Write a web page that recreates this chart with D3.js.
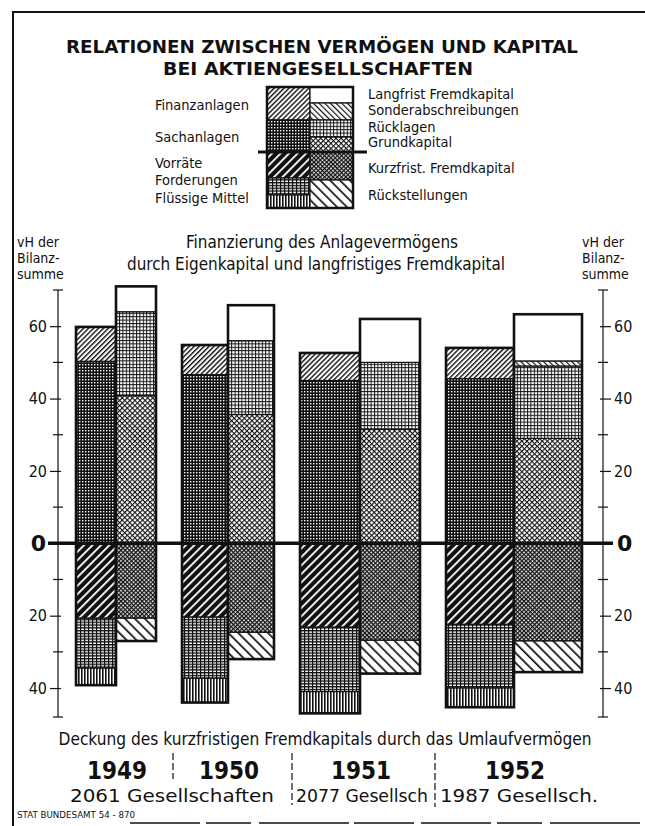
<!DOCTYPE html>
<html>
<head>
<meta charset="utf-8">
<script src="https://cdn.jsdelivr.net/npm/d3@7"></script>
<style>
  body { margin: 0; background: #fff; }
  svg { display: block; }
  text { font-family: 'DejaVu Sans Condensed', 'Liberation Sans Narrow', 'Roboto', sans-serif; fill: #111; }
</style>
</head>
<body>
<svg id="chart"></svg>
<script>
// Werte in vH der Bilanzsumme
const jahre = ['1949', '1950', '1951', '1952'];

// Vermögen (linker Balken)
const finanzanlagen   = [9.5, 8.2, 7.6, 8.5];
const sachanlagen     = [50.3, 46.6, 45.0, 45.5];
const vorraete        = [20.7, 20.4, 23.2, 22.4];
const forderungen     = [13.8, 16.9, 17.8, 17.6];
const fluessigeMittel = [4.7, 6.7, 6.0, 5.3];

// Kapital (rechter Balken)
const grundkapital         = [40.8, 35.6, 31.5, 29.0];
const ruecklagen           = [23.2, 20.4, 18.5, 20.0];
const sonderabschreibungen = [0, 0, 0, 1.4];
const langfristFremd       = [7.0, 9.8, 12.0, 12.9];
const kurzfristFremd       = [20.7, 24.6, 26.8, 27.0];
const rueckstellungen      = [6.3, 7.4, 9.2, 8.6];

const tickWerte  = [60, 40, 20, -20, -40];
const nebenTicks = [50, 30, 10, -10, -30];

const gesellschaften = ['2061 Gesellschaften', '2077 Gesellsch', '1987 Gesellsch.'];

const legendeLinks = ['Finanzanlagen', 'Sachanlagen', 'Vorräte', 'Forderungen', 'Flüssige Mittel'];
const legendeRechts = ['Langfrist Fremdkapital', 'Sonderabschreibungen', 'Rücklagen', 'Grundkapital', 'Kurzfrist. Fremdkapital', 'Rückstellungen'];

// ---- Layout ----
const width = 645, height = 826;
const balkenBreite = [40, 46, 60, 68];   // Breite je Einzelbalken
const xStart = 76, gruppenAbstand = 26;

const svg = d3.select('#chart').attr('width', width).attr('height', height);
const defs = svg.append('defs');

function muster(id, w, h, transform, bg, draw) {
    const p = defs.append('pattern')
        .attr('id', id)
        .attr('patternUnits', 'userSpaceOnUse')
        .attr('width', w).attr('height', h);
    if (transform) p.attr('patternTransform', transform);
    p.append('rect').attr('width', w).attr('height', h).attr('fill', bg);
    draw(p);
}
const schwarz = '#111';

muster('p-finanz', 3.5, 4, 'rotate(45)', '#fff', p => p.append('rect').attr('width', 1.4).attr('height', 4).attr('fill', schwarz));
muster('p-sach', 3, 3, null, schwarz, p => p.append('rect').attr('x', 1).attr('y', 1).attr('width', 1.4).attr('height', 1.4).attr('fill', '#fff'));
muster('p-vorraete', 6, 6, 'rotate(45)', schwarz, p => p.append('rect').attr('width', 1.8).attr('height', 6).attr('fill', '#fff'));
muster('p-forder', 4, 2.8, null, '#fff', p => {
    p.append('rect').attr('width', 4).attr('height', 1.4).attr('fill', schwarz);
    p.append('rect').attr('width', 1.2).attr('height', 2.8).attr('fill', schwarz);
});
muster('p-fluessig', 3, 4, null, '#fff', p => p.append('rect').attr('width', 1.6).attr('height', 4).attr('fill', schwarz));
muster('p-langfrist', 4, 4, null, '#fff', p => {});
muster('p-sonder', 4, 4, 'rotate(-45)', '#fff', p => p.append('rect').attr('width', 1.2).attr('height', 4).attr('fill', schwarz));
muster('p-rueck', 3.4, 3.4, null, '#fff', p => {
    p.append('rect').attr('width', 3.4).attr('height', 1).attr('fill', schwarz);
    p.append('rect').attr('width', 1).attr('height', 3.4).attr('fill', schwarz);
});
muster('p-grund', 3.6, 3.6, 'rotate(45)', '#fff', p => {
    p.append('rect').attr('width', 3.6).attr('height', 1.1).attr('fill', schwarz);
    p.append('rect').attr('width', 1.1).attr('height', 3.6).attr('fill', schwarz);
});
muster('p-kurz', 3, 3, 'rotate(45)', '#fff', p => {
    p.append('rect').attr('width', 3).attr('height', 1.3).attr('fill', schwarz);
    p.append('rect').attr('width', 1.3).attr('height', 3).attr('fill', schwarz);
});
muster('p-rueckst', 7, 7, 'rotate(-45)', '#fff', p => p.append('rect').attr('width', 1.7).attr('height', 7).attr('fill', schwarz));

const musterVon = {
    finanzanlagen: 'p-finanz', sachanlagen: 'p-sach', vorraete: 'p-vorraete',
    forderungen: 'p-forder', fluessigeMittel: 'p-fluessig',
    langfristFremd: 'p-langfrist', sonderabschreibungen: 'p-sonder', ruecklagen: 'p-rueck',
    grundkapital: 'p-grund', kurzfristFremd: 'p-kurz', rueckstellungen: 'p-rueckst'
};

// ---- Rahmen ----
svg.append('line').attr('x1', 12).attr('x2', width).attr('y1', 12).attr('y2', 12)
    .attr('stroke', schwarz).attr('stroke-width', 2);
svg.append('line').attr('x1', 13).attr('x2', 13).attr('y1', 12).attr('y2', height)
    .attr('stroke', schwarz).attr('stroke-width', 2);
svg.append('line').attr('x1', 130).attr('x2', width).attr('y1', 823).attr('y2', 823)
    .attr('stroke', schwarz).attr('stroke-width', 1.5).attr('stroke-dasharray', '70 6 45 8 90 5 60 7');

// ---- Titel ----
function text(x, y, str, size, opts = {}) {
    const t = svg.append('text').attr('x', x).attr('y', y)
        .attr('font-size', size)
        .attr('text-anchor', opts.anchor || 'start')
        .attr('font-weight', opts.bold ? 'bold' : 'normal')
        .text(str);
    if (opts.len) t.attr('textLength', opts.len).attr('lengthAdjust', 'spacingAndGlyphs');
    if (opts.family) t.style('font-family', opts.family);
    return t;
}
const titelFont = "'DejaVu Sans', sans-serif";
text(322, 53, 'RELATIONEN ZWISCHEN VERMÖGEN UND KAPITAL', 18.5, { anchor: 'middle', bold: true, len: 512, family: titelFont });
text(318, 75, 'BEI AKTIENGESELLSCHAFTEN', 18.5, { anchor: 'middle', bold: true, len: 310, family: titelFont });

// ---- Legende ----
const lgL = 267, lgM = 310, lgR = 353;
const grenzenLinks = [87, 120, 152, 178, 195, 208];
const grenzenRechts = [87, 103, 120, 137, 152, 180, 208];
const keysLegLinks = ['finanzanlagen', 'sachanlagen', 'vorraete', 'forderungen', 'fluessigeMittel'];
const keysLegRechts = ['langfristFremd', 'sonderabschreibungen', 'ruecklagen', 'grundkapital', 'kurzfristFremd', 'rueckstellungen'];
const leg = svg.append('g');
keysLegLinks.forEach((k, i) => {
    leg.append('rect').attr('x', lgL).attr('y', grenzenLinks[i])
        .attr('width', lgM - lgL).attr('height', grenzenLinks[i + 1] - grenzenLinks[i])
        .attr('fill', `url(#${musterVon[k]})`).attr('stroke', schwarz).attr('stroke-width', 1.2);
});
keysLegRechts.forEach((k, i) => {
    leg.append('rect').attr('x', lgM).attr('y', grenzenRechts[i])
        .attr('width', lgR - lgM).attr('height', grenzenRechts[i + 1] - grenzenRechts[i])
        .attr('fill', `url(#${musterVon[k]})`).attr('stroke', schwarz).attr('stroke-width', 1.2);
});
leg.append('rect').attr('x', lgL).attr('y', 87).attr('width', lgR - lgL).attr('height', 121)
    .attr('fill', 'none').attr('stroke', schwarz).attr('stroke-width', 2.5);
leg.append('line').attr('x1', 258).attr('x2', 367).attr('y1', 152).attr('y2', 152)
    .attr('stroke', schwarz).attr('stroke-width', 3);

const legYLinks = [110, 142, 168, 185, 203];
const legYRechts = [99, 115, 132, 147, 173, 200];
legendeLinks.forEach((l, i) => text(155, legYLinks[i], l, 14.5));
legendeRechts.forEach((l, i) => text(368, legYRechts[i], l, 14.5));

// ---- Achsentexte ----
['vH der', 'Bilanz-', 'summe'].forEach((l, i) => {
    text(17, 247 + i * 16, l, 14);
    text(582, 247 + i * 16, l, 14);
});
text(322, 248, 'Finanzierung des Anlagevermögens', 18, { anchor: 'middle', len: 272 });
text(316, 270, 'durch Eigenkapital und langfristiges Fremdkapital', 18, { anchor: 'middle', len: 378 });

// ---- Skalen ----
const y = d3.scaleLinear().domain([70, -48]).range([290, 717]);

const xGruppe = [];
let xPos = xStart;
balkenBreite.forEach(b => { xGruppe.push(xPos); xPos += 2 * b + gruppenAbstand; });

// ---- Daten stapeln ----
const zeilen = jahre.map((j, i) => ({
    jahr: j,
    sachanlagen: sachanlagen[i], finanzanlagen: finanzanlagen[i],
    vorraete: -vorraete[i], forderungen: -forderungen[i], fluessigeMittel: -fluessigeMittel[i],
    grundkapital: grundkapital[i], ruecklagen: ruecklagen[i],
    sonderabschreibungen: sonderabschreibungen[i], langfristFremd: langfristFremd[i],
    kurzfristFremd: -kurzfristFremd[i], rueckstellungen: -rueckstellungen[i]
}));

const keysLinks = ['sachanlagen', 'finanzanlagen', 'vorraete', 'forderungen', 'fluessigeMittel'];
const keysRechts = ['grundkapital', 'ruecklagen', 'sonderabschreibungen', 'langfristFremd', 'kurzfristFremd', 'rueckstellungen'];

const stapelLinks = d3.stack().keys(keysLinks).offset(d3.stackOffsetDiverging)(zeilen);
const stapelRechts = d3.stack().keys(keysRechts).offset(d3.stackOffsetDiverging)(zeilen);

const balken = svg.append('g');

function zeichneStapel(stapel, xVon) {
    stapel.forEach(serie => {
        balken.append('g').selectAll('rect')
            .data(serie)
            .join('rect')
            .attr('x', (d, i) => xVon(i))
            .attr('width', (d, i) => balkenBreite[i])
            .attr('y', d => y(Math.max(d[0], d[1])))
            .attr('height', d => Math.abs(y(d[0]) - y(d[1])))
            .attr('fill', `url(#${musterVon[serie.key]})`)
            .attr('stroke', schwarz)
            .attr('stroke-width', 1.2);
    });
    // Umriss
    jahre.forEach((j, i) => {
        const oben = d3.max(stapel, s => Math.max(s[i][0], s[i][1]));
        const unten = d3.min(stapel, s => Math.min(s[i][0], s[i][1]));
        balken.append('rect')
            .attr('x', xVon(i)).attr('width', balkenBreite[i])
            .attr('y', y(oben)).attr('height', y(unten) - y(oben))
            .attr('fill', 'none').attr('stroke', schwarz).attr('stroke-width', 2.6);
    });
}
zeichneStapel(stapelLinks, i => xGruppe[i]);
zeichneStapel(stapelRechts, i => xGruppe[i] + balkenBreite[i]);

// ---- Achsen ----
function achse(xa, links) {
    const g = svg.append('g').attr('transform', `translate(${xa},0)`);
    const ax = (links ? d3.axisLeft(y) : d3.axisRight(y))
        .tickValues(tickWerte).tickFormat(d => Math.abs(d))
        .tickSize(8).tickPadding(3);
    g.call(ax);
    g.select('.domain').remove();
    g.selectAll('.tick line').attr('stroke', schwarz).attr('stroke-width', 1.2)
        .attr('x1', links ? 3 : -3);
    g.selectAll('.tick text').attr('font-size', 16).style('font-family', null).attr('fill', schwarz);
    g.attr('font-family', null);

    const n = g.append('g');
    n.selectAll('line').data(nebenTicks).join('line')
        .attr('x1', -5).attr('x2', 5)
        .attr('y1', d => y(d)).attr('y2', d => y(d))
        .attr('stroke', schwarz).attr('stroke-width', 1.2);
    g.append('line').attr('y1', y(70)).attr('y2', y(-48))
        .attr('stroke', schwarz).attr('stroke-width', 1.2);
    [70, -48].forEach(v => g.append('line').attr('x1', -5).attr('x2', 5)
        .attr('y1', y(v)).attr('y2', y(v)).attr('stroke', schwarz).attr('stroke-width', 1.2));
}
achse(58, true);
achse(603, false);

// Nulllinie
svg.append('line').attr('x1', 48).attr('x2', 613).attr('y1', y(0)).attr('y2', y(0))
    .attr('stroke', schwarz).attr('stroke-width', 3.5);
text(46, y(0) + 8, '0', 22, { anchor: 'end', bold: true, family: titelFont });
text(617, y(0) + 8, '0', 22, { bold: true, family: titelFont });

// ---- Fußtexte ----
text(325, 745, 'Deckung des kurzfristigen Fremdkapitals durch das Umlaufvermögen', 17.5, { anchor: 'middle', len: 533 });

jahre.forEach((j, i) => {
    const mitte = xGruppe[i] + balkenBreite[i];
    text(mitte + 1, 779, j, 24, { anchor: 'middle', bold: true });
});

// Gesellschaften-Zeile, Spannen zwischen den Trennstrichen
const gsSpannen = [[70, 274], [296, 428], [440, 598]];
gesellschaften.forEach((gs, i) => {
    const [a, b] = gsSpannen[i];
    text(a, 802, gs, 18, { len: b - a });
});

[[173, 753, 779], [292, 753, 805], [435, 753, 807]].forEach(([x, y1, y2]) => {
    svg.append('line').attr('x1', x).attr('x2', x).attr('y1', y1).attr('y2', y2)
        .attr('stroke', schwarz).attr('stroke-width', 1.2).attr('stroke-dasharray', '7 3');
});

text(17, 818, 'STAT BUNDESAMT 54 - 870', 9.5, { len: 118, family: titelFont });
</script>
</body>
</html>
